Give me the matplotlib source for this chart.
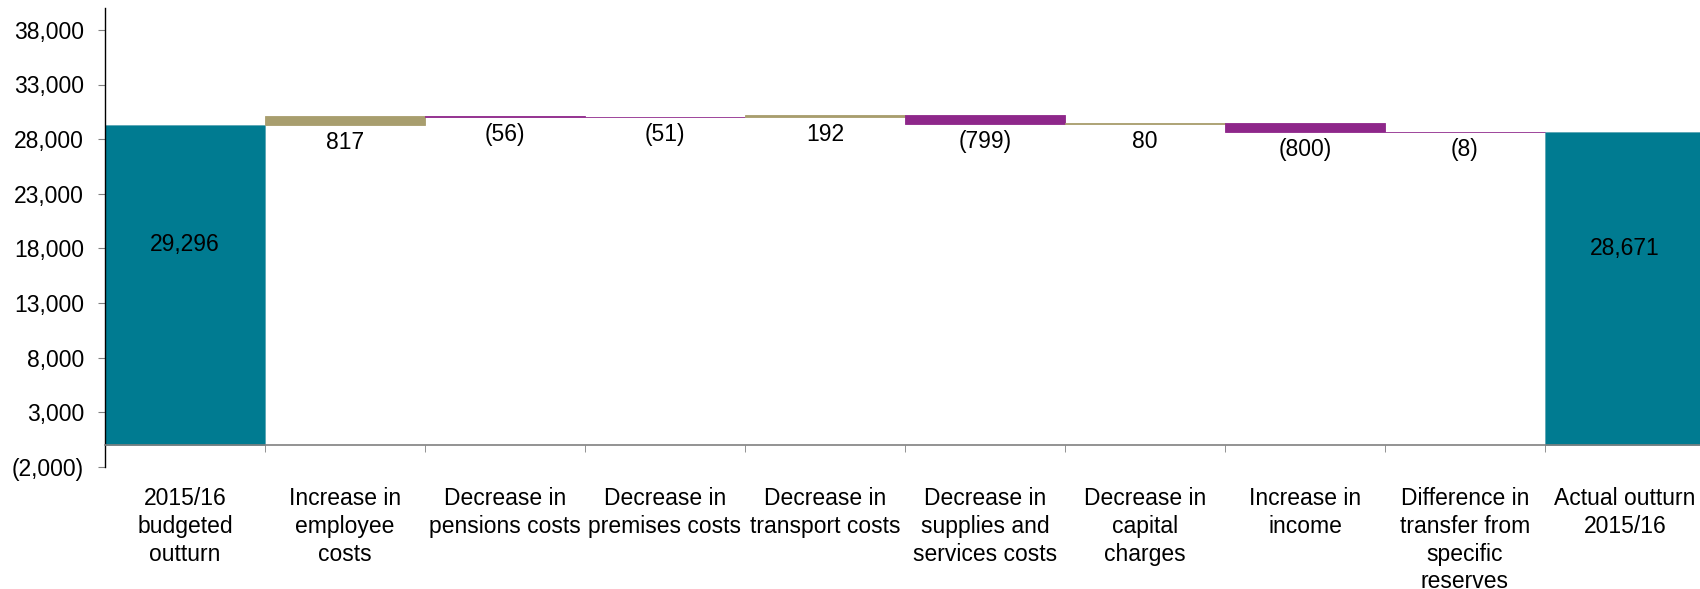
import numpy as np
import matplotlib
matplotlib.use("Agg")
import matplotlib.pyplot as plt
from matplotlib.ticker import FuncFormatter

plt.rcParams['font.family'] = ['Liberation Sans', 'DejaVu Sans']

categories = ['2015/16\nbudgeted\noutturn', 'Increase in\nemployee\ncosts',
              'Decrease in\npensions costs', 'Decrease in\npremises costs',
              'Decrease in\ntransport costs', 'Decrease in\nsupplies and\nservices costs',
              'Decrease in\ncapital\ncharges', 'Increase in\nincome',
              'Difference in\ntransfer from\nspecific\nreserves', 'Actual outturn\n2015/16']
start_total = 29296
changes = [817, -56, -51, 192, -799, 80, -800, -8]
end_total = 28671
y_ticks = [-2000, 3000, 8000, 13000, 18000, 23000, 28000, 33000, 38000]

teal = '#007B91'
olive = '#A89E6E'
purple = '#8E278A'
fs = 16.5

def fmt(v, pos=None):
    if v < 0:
        return '({:,.0f})'.format(-v)
    return '{:,.0f}'.format(v)

fig = plt.figure(figsize=(17, 5.89), dpi=100)
ax = fig.add_axes([105 / 1700, 122 / 589, 1600 / 1700, 459 / 589])

x = np.arange(len(categories))

# totals
for i, tot in [(0, start_total), (len(categories) - 1, end_total)]:
    ax.bar(x[i], tot, width=1.0, color=teal, edgecolor='#5aa6b5', linewidth=0.6, zorder=2)
    ax.annotate(fmt(tot), (x[i], tot / 2), xytext=(0, 29), textcoords='offset points',
                ha='center', va='center', fontsize=fs, color='black', zorder=3)

# floating changes
running = start_total
for j, d in enumerate(changes):
    i = j + 1
    bottom = min(running, running + d)
    col = olive if d > 0 else purple
    ax.bar(x[i], abs(d), bottom=bottom, width=1.0, color=col, edgecolor=col,
           linewidth=0.6, zorder=2)
    ax.annotate(fmt(d), (x[i], bottom), xytext=(0, -12.5), textcoords='offset points',
                ha='center', va='center', fontsize=fs, color='black', zorder=3)
    running += d

ax.set_xlim(-0.5, len(categories) - 0.5)
ax.set_ylim(-2000, 40000)
ax.set_yticks(y_ticks)
ax.yaxis.set_major_formatter(FuncFormatter(fmt))

ax.spines['top'].set_visible(False)
ax.spines['right'].set_visible(False)
ax.spines['bottom'].set_position(('data', 0))
ax.spines['bottom'].set_color('#808080')
ax.spines['bottom'].set_linewidth(1.2)
ax.spines['left'].set_color('black')
ax.spines['left'].set_linewidth(1.0)

ax.set_xticks(x)
ax.set_xticklabels(categories, fontsize=fs, linespacing=1.27, va='top')
ax.set_xticks(np.arange(len(categories) + 1) - 0.5, minor=True)
ax.tick_params(axis='x', which='major', length=0, pad=30)
ax.tick_params(axis='x', which='minor', length=5, color='#808080', direction='out')
ax.tick_params(axis='y', length=5, color='#808080', labelsize=fs, pad=10)

fig.savefig('out.png', dpi=100)
